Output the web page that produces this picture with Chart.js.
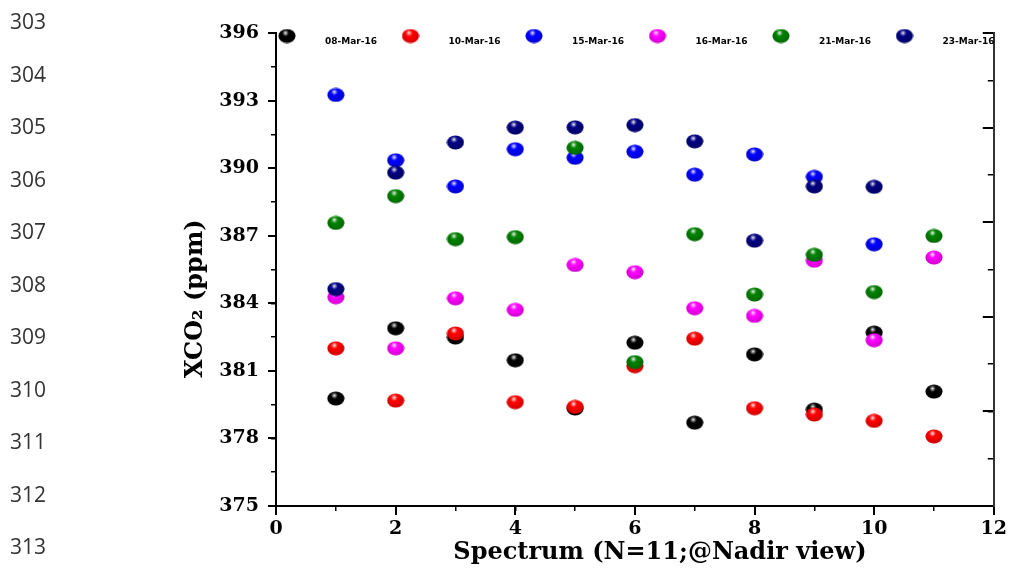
<!DOCTYPE html>
<html>
<head>
<meta charset="utf-8">
<script src="https://cdn.jsdelivr.net/npm/chart.js@4.4.1/dist/chart.umd.min.js"></script>
<style>
  html, body { margin: 0; padding: 0; background: #fff; }
  #wrap { position: relative; width: 1010px; height: 569px; overflow: hidden; }
  #myChart { position: absolute; left: 0; top: 0; }
  .ln { position: absolute; left: 10px; font-family: "Open Sans", sans-serif; font-size: 21px; color: #333333; line-height: 1; }
</style>
</head>
<body>
<div id="wrap">
  <canvas id="myChart" width="1010" height="569"></canvas>
</div>
<script>
// manuscript line numbers down the left margin
const lineNumbers = ["303", "304", "305", "306", "307", "308", "309", "310", "311", "312", "313"];

const spectrum = [1, 2, 3, 4, 5, 6, 7, 8, 9, 10, 11];
const dates = ["08-Mar-16", "10-Mar-16", "15-Mar-16", "16-Mar-16", "21-Mar-16", "23-Mar-16"];
const colors = ["#000000", "#ff0000", "#0000ff", "#ff00ff", "#008000", "#000080"];

const mar08 = [379.77, 382.89, 382.48, 381.47, 379.33, 382.25, 378.70, 381.73, 379.28, 382.70, 380.08];
const mar10 = [382.00, 379.68, 382.66, 379.61, 379.40, 381.21, 382.43, 379.34, 379.06, 378.78, 378.09];
const mar15 = [393.25, 390.35, 389.19, 390.84, 390.46, 390.73, 389.71, 390.61, 389.61, 386.62, null];
const mar16 = [384.27, 382.00, 384.22, 383.71, 385.70, 385.38, 383.78, 383.44, 385.89, 382.36, 386.03];
const mar21 = [387.57, 388.76, 386.85, 386.94, 390.90, 381.39, 387.07, 384.39, 386.15, 384.50, 386.99];
const mar23 = [384.63, 389.80, 391.14, 391.80, 391.81, 391.91, 391.19, 386.78, 389.19, 389.17, null];
const series = [mar08, mar10, mar15, mar16, mar21, mar23];

const yTicks = [375, 378, 381, 384, 387, 390, 393, 396];
const xTicks = [0, 2, 4, 6, 8, 10, 12];

const wrap = document.getElementById("wrap");
lineNumbers.forEach((n, i) => {
  const d = document.createElement("div");
  d.className = "ln";
  d.textContent = n;
  d.style.top = (11 + i * 52.5) + "px";
  wrap.appendChild(d);
});

// shiny ball marker
function ball(color) {
  const c = document.createElement("canvas");
  c.width = 18;
  c.height = 15;
  const g = c.getContext("2d");
  g.beginPath();
  g.ellipse(9, 7.5, 8.5, 7, 0, 0, Math.PI * 2);
  g.fillStyle = color;
  g.fill();
  g.save();
  g.clip();
  let sh = g.createRadialGradient(8, 5, 4, 9, 6, 10);
  sh.addColorStop(0, "rgba(0,0,0,0)");
  sh.addColorStop(1, "rgba(0,0,0,0.25)");
  g.fillStyle = sh;
  g.fillRect(0, 0, 18, 15);
  let hl = g.createRadialGradient(7.5, 4.5, 0, 7.5, 4.5, 3.5);
  hl.addColorStop(0, "rgba(255,255,255,0.95)");
  hl.addColorStop(0.5, "rgba(255,255,255,0.4)");
  hl.addColorStop(1, "rgba(255,255,255,0)");
  g.fillStyle = hl;
  g.fillRect(0, 0, 18, 15);
  g.restore();
  return c;
}
const balls = colors.map(ball);

const dateLegend = {
  id: "dateLegend",
  afterDraw(chart) {
    const { ctx, chartArea } = chart;
    ctx.save();
    ctx.font = "bold 9px 'DejaVu Sans'";
    ctx.fillStyle = "#000";
    ctx.textBaseline = "middle";
    dates.forEach((d, i) => {
      const x = chartArea.left + 11 + i * 123.5;
      const img = balls[i];
      ctx.drawImage(img, x - img.width / 2, 36 - img.height / 2);
      ctx.fillText(d, x + 38, 42);
    });
    ctx.restore();
  },
};

const axisFont = { family: "'DejaVu Serif'", size: 19, weight: "bold" };
const titleFont = { family: "'DejaVu Serif'", size: 24, weight: "bold" };

const ctx = document.getElementById("myChart");
new Chart(ctx, {
  type: "scatter",
  data: {
    datasets: series.map((s, i) => ({
      label: dates[i],
      data: spectrum.map((x, j) => ({ x: x, y: s[j] })),
      pointStyle: balls[i],
      backgroundColor: colors[i],
      borderColor: colors[i],
      order: 6 - i,
    })),
  },
  options: {
    responsive: false,
    animation: false,
    events: [],
    layout: { padding: { left: 181, right: 15, top: 33, bottom: 0 } },
    plugins: { legend: { display: false }, tooltip: { enabled: false } },
    scales: {
      x: {
        type: "linear",
        position: "bottom",
        min: 0,
        max: 12,
        weight: 1,
        afterBuildTicks: (s) => { s.ticks = xTicks.map((v) => ({ value: v })); },
        ticks: { color: "#000", font: axisFont, padding: 3, maxRotation: 0 },
        grid: { drawOnChartArea: false, tickLength: 9, color: "#000", lineWidth: 2 },
        border: { color: "#000", width: 2 },
        title: {
          display: true,
          // leading spaces nudge the title right like the original figure
          text: "      Spectrum (N=11;@Nadir view)",
          color: "#000",
          font: titleFont,
          padding: { top: 0, bottom: 2 },
        },
        afterFit: (s) => { s.height = 63; },
      },
      xMinor: {
        type: "linear",
        position: "bottom",
        min: 0,
        max: 12,
        weight: 0,
        ticks: { stepSize: 1, display: false },
        grid: { drawOnChartArea: false, tickLength: 5, color: "#000", lineWidth: 1.5 },
        border: { display: false },
        afterFit: (s) => { s.height = 0; },
      },
      y: {
        position: "left",
        min: 375,
        max: 396,
        weight: 1,
        afterBuildTicks: (s) => { s.ticks = yTicks.map((v) => ({ value: v })); },
        ticks: { color: "#000", font: axisFont, padding: 9 },
        grid: { drawOnChartArea: false, tickLength: 8, color: "#000", lineWidth: 2 },
        border: { color: "#000", width: 2 },
        title: {
          display: true,
          // trailing spaces push the rotated title down a little
          text: "XCO₂ (ppm)       ",
          color: "#000",
          font: titleFont,
          padding: { top: 0, bottom: 0 },
        },
        afterFit: (s) => { s.width = 95; },
      },
      yMinor: {
        position: "left",
        min: 375,
        max: 396,
        weight: 0,
        ticks: { stepSize: 1.5, display: false },
        grid: { drawOnChartArea: false, tickLength: 5, color: "#000", lineWidth: 1.5 },
        border: { display: false },
        afterFit: (s) => { s.width = 0; },
      },
      right: {
        position: "right",
        min: 0,
        max: 10,
        weight: 0,
        ticks: { stepSize: 2, display: false },
        grid: { drawOnChartArea: false, tickLength: -11, color: "#000", lineWidth: 2 },
        border: { color: "#333", width: 2 },
        afterFit: (s) => { s.width = 0; },
      },
      rightMinor: {
        position: "right",
        min: 0,
        max: 10,
        weight: 1,
        ticks: { stepSize: 1, display: false },
        grid: { drawOnChartArea: false, tickLength: -6, color: "#000", lineWidth: 1.5 },
        border: { display: false },
        afterFit: (s) => { s.width = 0; },
      },
    },
  },
  plugins: [dateLegend],
});
</script>
</body>
</html>
